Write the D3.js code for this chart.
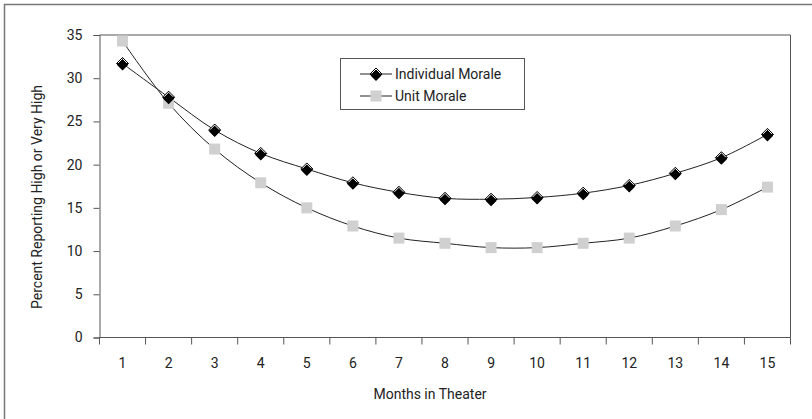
<!DOCTYPE html>
<html><head><meta charset="utf-8">
<script src="https://cdn.jsdelivr.net/npm/d3@7"></script>
<style>body{margin:0;background:#fff}svg{display:block}text{font-family:Roboto,sans-serif;fill:#222}</style>
</head><body><svg id="c" width="812" height="419"></svg>
<script>
const months = ["1","2","3","4","5","6","7","8","9","10","11","12","13","14","15"];
const individualMorale = [31.7,27.8,24.0,21.3,19.5,17.9,16.8,16.1,16.0,16.2,16.7,17.6,19.0,20.8,23.5];
const unitMorale = [34.3,27.1,21.8,17.9,15.0,12.9,11.5,10.9,10.4,10.4,10.9,11.5,12.9,14.8,17.4];
const yTicks = [0,5,10,15,20,25,30,35];

const FS = 14;
const svg = d3.select("#c");
const L=99.5, T=35, R=790.5, B=337.5;
const axisCol="#555";
svg.append("path").attr("d","M4.5,419V4.5H812").attr("fill","none").attr("stroke","#777").attr("stroke-width",1.5);

const x = d3.scaleBand().domain(months).range([L,R]).padding(0);
const y = d3.scaleLinear().domain([0,35]).range([B,T]);

svg.append("path").attr("d",`M${L},${T}H${R}V${B}`).attr("fill","none").attr("stroke",axisCol).attr("stroke-width",1);

const ya = svg.append("g").attr("transform",`translate(${L},0)`)
  .call(d3.axisLeft(y).tickValues(yTicks).tickSize(6).tickPadding(11));
ya.select(".domain").attr("stroke",axisCol);
ya.selectAll(".tick line").attr("stroke",axisCol);
ya.selectAll("text").attr("font-size",FS).attr("font-family","Roboto").attr("fill","#222");

const xa = svg.append("g").attr("transform",`translate(0,${B})`);
xa.append("line").attr("x1",L).attr("x2",R).attr("stroke",axisCol);
const bounds = months.map(m=>x(m)).concat([x(months[months.length-1])+x.bandwidth()]);
xa.selectAll("line.t").data(bounds).join("line").attr("class","t")
  .attr("x1",d=>d).attr("x2",d=>d).attr("y1",0).attr("y2",7).attr("stroke",axisCol);
xa.selectAll("text").data(months).join("text")
  .attr("x",d=>x(d)+x.bandwidth()/2).attr("y",30.5).attr("text-anchor","middle")
  .attr("font-size",FS).text(d=>d);

svg.append("text").attr("x",430).attr("y",399).attr("text-anchor","middle").attr("font-size",FS).text("Months in Theater");
svg.append("text").attr("transform",`translate(42,197) rotate(-90)`).attr("text-anchor","middle").attr("font-size",14).text("Percent Reporting High or Very High");

const cx = d=>x(d)+x.bandwidth()/2;
const line = d3.line().x((d,i)=>cx(months[i])).y(d=>y(d)).curve(d3.curveCatmullRom.alpha(0.5));

svg.append("path").attr("d",line(unitMorale)).attr("fill","none").attr("stroke","#222").attr("stroke-width",1);
svg.append("path").attr("d",line(individualMorale)).attr("fill","none").attr("stroke","#222").attr("stroke-width",1);

const sq = 11;
function square(g,px,py){
  g.append("rect").attr("x",px-sq/2).attr("y",py-sq/2).attr("width",sq).attr("height",sq).attr("fill","#d0d0d0");
}
function diamond(g,px,py){
  const r=6;
  g.append("path").attr("d",`M${px},${py-r}L${px+r},${py}L${px},${py+r}L${px-r},${py}Z`).attr("fill","#000").attr("stroke","#000").attr("stroke-width",1);
  const r2=5.5;
  g.append("path").attr("d",`M${px},${py-r2}L${px+r2},${py}L${px},${py+r2}L${px-r2},${py}Z`).attr("transform","translate(0,1.5)").attr("fill","#000").attr("stroke","none");
  g.append("path").attr("d",`M${px-r+1.5},${py-0.5}L${px},${py-r+1}L${px+r-1.5},${py-0.5}`).attr("fill","none").attr("stroke","#fff").attr("stroke-width",1);
}
const mg = svg.append("g");
unitMorale.forEach((v,i)=>square(mg,cx(months[i]),y(v)));
individualMorale.forEach((v,i)=>diamond(mg,cx(months[i]),y(v)));

const lg = svg.append("g");
lg.append("rect").attr("x",340.5).attr("y",58.5).attr("width",184).attr("height",51).attr("fill","#fff").attr("stroke",axisCol);
const items=[{name:"Individual Morale",t:"d",yy:74},{name:"Unit Morale",t:"s",yy:96}];
items.forEach(it=>{
  lg.append("line").attr("x1",360).attr("x2",392).attr("y1",it.yy).attr("y2",it.yy).attr("stroke","#222");
  if(it.t==="d") diamond(lg,376,it.yy); else square(lg,376,it.yy);
  lg.append("text").attr("x",395).attr("y",it.yy+5).attr("font-size",FS).text(it.name);
});
</script></body></html>
